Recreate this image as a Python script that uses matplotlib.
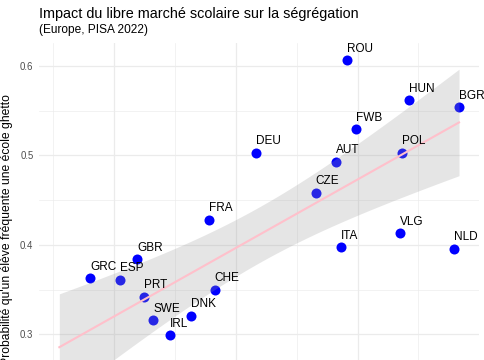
import numpy as np
import matplotlib
matplotlib.use("Agg")
import matplotlib.pyplot as plt
from matplotlib.ticker import MultipleLocator

plt.rcParams['font.family'] = ['Liberation Sans', 'DejaVu Sans']

# Données (les deux derniers pays sont hors cadre, en bas à gauche)
pays = ['ROU', 'HUN', 'BGR', 'FWB', 'POL', 'AUT', 'CZE', 'DEU', 'ITA', 'VLG', 'NLD',
        'FRA', 'GBR', 'GRC', 'ESP', 'PRT', 'CHE', 'SWE', 'DNK', 'IRL', '', '']
marche = [2.911, 3.422, 3.833, 2.984, 3.362, 2.823, 2.656, 2.163, 2.861, 3.348, 3.794,
          1.782, 1.191, 0.803, 1.049, 1.244, 1.827, 1.323, 1.632, 1.462, 0.551, 1.241]
ghetto = [0.6066, 0.5619, 0.5541, 0.5295, 0.5030, 0.4930, 0.4583, 0.5030, 0.3977, 0.4133, 0.3958,
          0.4282, 0.3842, 0.3630, 0.3611, 0.3421, 0.3499, 0.3157, 0.3209, 0.2993, 0.235, 0.232]

x = np.array(marche)
y = np.array(ghetto)

# régression linéaire + intervalle de confiance à 95 %
n = len(x)
pente, origine = np.polyfit(x, y, 1)
resid = y - (pente * x + origine)
s = np.sqrt(np.sum(resid ** 2) / (n - 2))
t95 = 2.086
xs = np.linspace(x.min(), x.max(), 100)
ys = pente * xs + origine
se = s * np.sqrt(1 / n + (xs - x.mean()) ** 2 / np.sum((x - x.mean()) ** 2))

fig = plt.figure(figsize=(4.85, 3.6), dpi=100)
ax = fig.add_axes([39 / 485, -0.158, 440 / 485, 1.0389])

ax.scatter(x, y, s=52, color='blue', zorder=2, linewidths=0)
ax.fill_between(xs, ys - t95 * se, ys + t95 * se, color='#999999', alpha=0.25, linewidth=0, zorder=3)
ax.plot(xs, ys, color='pink', linewidth=1.5, zorder=4)

for nom, xi, yi in zip(pays, x, y):
    if nom:
        ax.annotate(nom, (xi, yi), xytext=(0, 6), textcoords='offset points',
                    ha='left', va='baseline', fontsize=8.5, color='black', zorder=5)

ax.set_xlim(0.384, 3.997)
ax.set_ylim(0.2077, 0.6256)
ax.xaxis.set_major_locator(MultipleLocator(1))
ax.xaxis.set_minor_locator(MultipleLocator(0.5))
ax.yaxis.set_major_locator(MultipleLocator(0.1))
ax.yaxis.set_minor_locator(MultipleLocator(0.05))
ax.grid(which='major', color='#EBEBEB', linewidth=0.9)
ax.grid(which='minor', color='#EBEBEB', linewidth=0.45)
ax.set_axisbelow(True)
for sp in ax.spines.values():
    sp.set_visible(False)
ax.tick_params(which='both', length=0, labelsize=6.9, labelcolor='#4D4D4D', pad=4)
# l'axe des x est hors du cadre de l'image
ax.tick_params(axis='x', labelbottom=False)
ax.set_yticks([0.3, 0.4, 0.5, 0.6])
ax.set_yticklabels(['0.3', '0.4', '0.5', '0.6'])

ax.set_ylabel("Probabilité qu'un élève fréquente une école ghetto", fontsize=8.7)
ax.yaxis.set_label_coords(-0.059, 0.5)

fig.text(39 / 485, 1 - 18.3 / 360, "Impact du libre marché scolaire sur la ségrégation",
         fontsize=10.4, va='baseline', color='black')
fig.text(39 / 485, 1 - 32.7 / 360, "(Europe, PISA 2022)", fontsize=8.6, va='baseline', color='black')

fig.savefig('out.png', dpi=100)
